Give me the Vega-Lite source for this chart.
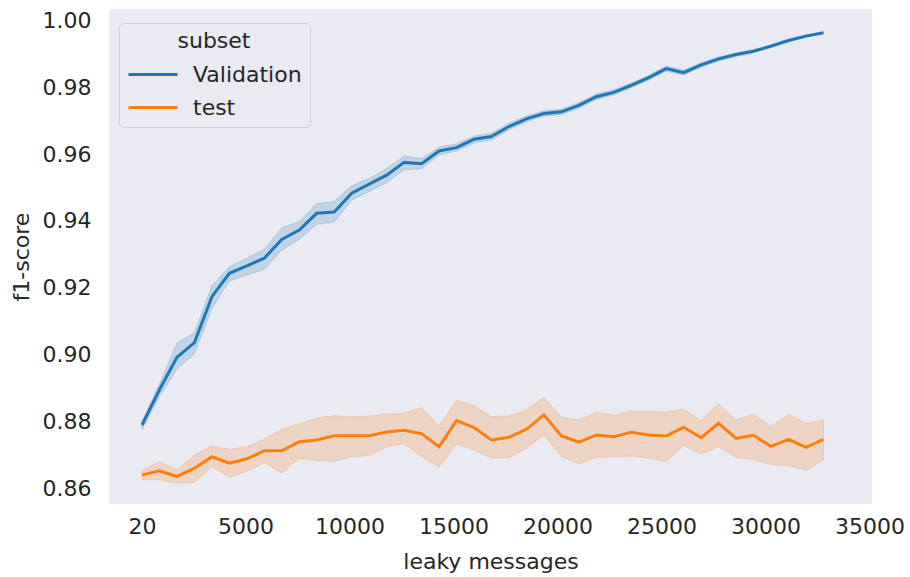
{
  "$schema": "https://vega.github.io/schema/vega-lite/v6.json",
  "width": 763,
  "height": 495,
  "autosize": {"type": "none"},
  "padding": {"left": 109, "top": 9, "right": 38, "bottom": 73},
  "background": "#ffffff",
  "config": {
    "font": "DejaVu Sans",
    "view": {"fill": "#EAEAF2", "stroke": null},
    "axis": {"domain": false, "ticks": false, "tickSize": 0, "grid": false, "labelFont": "DejaVu Sans", "labelFontSize": 22, "labelColor": "#262626", "titleFont": "DejaVu Sans", "titleFontSize": 22, "titleFontWeight": "normal", "titleColor": "#262626", "labelFlush": false, "labelOverlap": false},
    "legend": {"labelFont": "DejaVu Sans", "titleFont": "DejaVu Sans", "labelColor": "#262626", "titleColor": "#262626"}
  },
  "data": {"values": [
    {"subset": "Validation", "messages": 20, "f1": 0.8791, "lo": 0.8777, "hi": 0.8803},
    {"subset": "Validation", "messages": 860, "f1": 0.8896, "lo": 0.8876, "hi": 0.8914},
    {"subset": "Validation", "messages": 1700, "f1": 0.8993, "lo": 0.8958, "hi": 0.9035},
    {"subset": "Validation", "messages": 2540, "f1": 0.9037, "lo": 0.9003, "hi": 0.9067},
    {"subset": "Validation", "messages": 3380, "f1": 0.9174, "lo": 0.9139, "hi": 0.9207},
    {"subset": "Validation", "messages": 4220, "f1": 0.9244, "lo": 0.9221, "hi": 0.9264},
    {"subset": "Validation", "messages": 5060, "f1": 0.9266, "lo": 0.9238, "hi": 0.9289},
    {"subset": "Validation", "messages": 5900, "f1": 0.9289, "lo": 0.9256, "hi": 0.9316},
    {"subset": "Validation", "messages": 6740, "f1": 0.9345, "lo": 0.9313, "hi": 0.9380},
    {"subset": "Validation", "messages": 7580, "f1": 0.9373, "lo": 0.9345, "hi": 0.9398},
    {"subset": "Validation", "messages": 8420, "f1": 0.9423, "lo": 0.9390, "hi": 0.9452},
    {"subset": "Validation", "messages": 9260, "f1": 0.9427, "lo": 0.9396, "hi": 0.9458},
    {"subset": "Validation", "messages": 10100, "f1": 0.9483, "lo": 0.9462, "hi": 0.9505},
    {"subset": "Validation", "messages": 10940, "f1": 0.9510, "lo": 0.9488, "hi": 0.9527},
    {"subset": "Validation", "messages": 11780, "f1": 0.9537, "lo": 0.9514, "hi": 0.9557},
    {"subset": "Validation", "messages": 12620, "f1": 0.9575, "lo": 0.9553, "hi": 0.9594},
    {"subset": "Validation", "messages": 13460, "f1": 0.9571, "lo": 0.9556, "hi": 0.9586},
    {"subset": "Validation", "messages": 14300, "f1": 0.9609, "lo": 0.9597, "hi": 0.9621},
    {"subset": "Validation", "messages": 15140, "f1": 0.9619, "lo": 0.9609, "hi": 0.9630},
    {"subset": "Validation", "messages": 15980, "f1": 0.9644, "lo": 0.9633, "hi": 0.9654},
    {"subset": "Validation", "messages": 16820, "f1": 0.9652, "lo": 0.9642, "hi": 0.9662},
    {"subset": "Validation", "messages": 17660, "f1": 0.9682, "lo": 0.9672, "hi": 0.9692},
    {"subset": "Validation", "messages": 18500, "f1": 0.9705, "lo": 0.9696, "hi": 0.9714},
    {"subset": "Validation", "messages": 19340, "f1": 0.9721, "lo": 0.9713, "hi": 0.9729},
    {"subset": "Validation", "messages": 20180, "f1": 0.9726, "lo": 0.9718, "hi": 0.9734},
    {"subset": "Validation", "messages": 21020, "f1": 0.9745, "lo": 0.9737, "hi": 0.9753},
    {"subset": "Validation", "messages": 21860, "f1": 0.9771, "lo": 0.9763, "hi": 0.9779},
    {"subset": "Validation", "messages": 22700, "f1": 0.9784, "lo": 0.9776, "hi": 0.9792},
    {"subset": "Validation", "messages": 23540, "f1": 0.9805, "lo": 0.9798, "hi": 0.9812},
    {"subset": "Validation", "messages": 24380, "f1": 0.9828, "lo": 0.9821, "hi": 0.9835},
    {"subset": "Validation", "messages": 25220, "f1": 0.9855, "lo": 0.9847, "hi": 0.9863},
    {"subset": "Validation", "messages": 26060, "f1": 0.9843, "lo": 0.9836, "hi": 0.9851},
    {"subset": "Validation", "messages": 26900, "f1": 0.9866, "lo": 0.9859, "hi": 0.9872},
    {"subset": "Validation", "messages": 27740, "f1": 0.9884, "lo": 0.9878, "hi": 0.9890},
    {"subset": "Validation", "messages": 28580, "f1": 0.9897, "lo": 0.9891, "hi": 0.9902},
    {"subset": "Validation", "messages": 29420, "f1": 0.9907, "lo": 0.9902, "hi": 0.9912},
    {"subset": "Validation", "messages": 30260, "f1": 0.9922, "lo": 0.9917, "hi": 0.9926},
    {"subset": "Validation", "messages": 31100, "f1": 0.9939, "lo": 0.9935, "hi": 0.9943},
    {"subset": "Validation", "messages": 31940, "f1": 0.9952, "lo": 0.9949, "hi": 0.9955},
    {"subset": "Validation", "messages": 32780, "f1": 0.9962, "lo": 0.9960, "hi": 0.9964},
    {"subset": "test", "messages": 20, "f1": 0.8642, "lo": 0.8627, "hi": 0.8655},
    {"subset": "test", "messages": 860, "f1": 0.8654, "lo": 0.8627, "hi": 0.8682},
    {"subset": "test", "messages": 1700, "f1": 0.8637, "lo": 0.8617, "hi": 0.8657},
    {"subset": "test", "messages": 2540, "f1": 0.8662, "lo": 0.8619, "hi": 0.8701},
    {"subset": "test", "messages": 3380, "f1": 0.8696, "lo": 0.8667, "hi": 0.8728},
    {"subset": "test", "messages": 4220, "f1": 0.8677, "lo": 0.8635, "hi": 0.8718},
    {"subset": "test", "messages": 5060, "f1": 0.8690, "lo": 0.8652, "hi": 0.8726},
    {"subset": "test", "messages": 5900, "f1": 0.8714, "lo": 0.8678, "hi": 0.8748},
    {"subset": "test", "messages": 6740, "f1": 0.8714, "lo": 0.8647, "hi": 0.8778},
    {"subset": "test", "messages": 7580, "f1": 0.8741, "lo": 0.8691, "hi": 0.8794},
    {"subset": "test", "messages": 8420, "f1": 0.8746, "lo": 0.8685, "hi": 0.8811},
    {"subset": "test", "messages": 9260, "f1": 0.8759, "lo": 0.8682, "hi": 0.8819},
    {"subset": "test", "messages": 10100, "f1": 0.8759, "lo": 0.8696, "hi": 0.8816},
    {"subset": "test", "messages": 10940, "f1": 0.8759, "lo": 0.8699, "hi": 0.8818},
    {"subset": "test", "messages": 11780, "f1": 0.8770, "lo": 0.8726, "hi": 0.8824},
    {"subset": "test", "messages": 12620, "f1": 0.8775, "lo": 0.8735, "hi": 0.8825},
    {"subset": "test", "messages": 13460, "f1": 0.8765, "lo": 0.8696, "hi": 0.8844},
    {"subset": "test", "messages": 14300, "f1": 0.8726, "lo": 0.8665, "hi": 0.8788},
    {"subset": "test", "messages": 15140, "f1": 0.8804, "lo": 0.8734, "hi": 0.8864},
    {"subset": "test", "messages": 15980, "f1": 0.8783, "lo": 0.8716, "hi": 0.8849},
    {"subset": "test", "messages": 16820, "f1": 0.8746, "lo": 0.8692, "hi": 0.8816},
    {"subset": "test", "messages": 17660, "f1": 0.8754, "lo": 0.8694, "hi": 0.8818},
    {"subset": "test", "messages": 18500, "f1": 0.8778, "lo": 0.8721, "hi": 0.8836},
    {"subset": "test", "messages": 19340, "f1": 0.8821, "lo": 0.8761, "hi": 0.8874},
    {"subset": "test", "messages": 20180, "f1": 0.8758, "lo": 0.8697, "hi": 0.8814},
    {"subset": "test", "messages": 21020, "f1": 0.8740, "lo": 0.8675, "hi": 0.8806},
    {"subset": "test", "messages": 21860, "f1": 0.8761, "lo": 0.8694, "hi": 0.8828},
    {"subset": "test", "messages": 22700, "f1": 0.8756, "lo": 0.8696, "hi": 0.8820},
    {"subset": "test", "messages": 23540, "f1": 0.8769, "lo": 0.8698, "hi": 0.8833},
    {"subset": "test", "messages": 24380, "f1": 0.8761, "lo": 0.8692, "hi": 0.8831},
    {"subset": "test", "messages": 25220, "f1": 0.8758, "lo": 0.8682, "hi": 0.8830},
    {"subset": "test", "messages": 26060, "f1": 0.8784, "lo": 0.8730, "hi": 0.8838},
    {"subset": "test", "messages": 26900, "f1": 0.8753, "lo": 0.8704, "hi": 0.8804},
    {"subset": "test", "messages": 27740, "f1": 0.8796, "lo": 0.8726, "hi": 0.8854},
    {"subset": "test", "messages": 28580, "f1": 0.8751, "lo": 0.8694, "hi": 0.8806},
    {"subset": "test", "messages": 29420, "f1": 0.8760, "lo": 0.8688, "hi": 0.8824},
    {"subset": "test", "messages": 30260, "f1": 0.8727, "lo": 0.8672, "hi": 0.8786},
    {"subset": "test", "messages": 31100, "f1": 0.8748, "lo": 0.8669, "hi": 0.8824},
    {"subset": "test", "messages": 31940, "f1": 0.8724, "lo": 0.8655, "hi": 0.8796},
    {"subset": "test", "messages": 32780, "f1": 0.8748, "lo": 0.8687, "hi": 0.8806}
  ]},
  "encoding": {
    "x": {
      "field": "messages", "type": "quantitative",
      "scale": {"domain": [-1567, 35116], "nice": false, "zero": false},
      "axis": {"title": "leaky messages", "values": [20, 5000, 10000, 15000, 20000, 25000, 30000, 35000], "format": "d", "labelPadding": 12, "titlePadding": 14}
    }
  },
  "layer": [
    {
      "mark": {"type": "area", "fillOpacity": 0.2, "strokeOpacity": 0.2, "strokeWidth": 1},
      "encoding": {
        "y": {"field": "lo", "type": "quantitative", "scale": {"domain": [0.8555, 1.0033], "nice": false, "zero": false},
          "axis": {"title": "f1-score", "values": [0.86, 0.88, 0.9, 0.92, 0.94, 0.96, 0.98, 1.0], "format": ".2f", "labelPadding": 18, "titlePadding": 9}},
        "y2": {"field": "hi"},
        "color": {"field": "subset", "type": "nominal",
          "scale": {"domain": ["Validation", "test"], "range": ["#1f77b4", "#ff7f0e"]},
          "legend": {"title": "subset", "orient": "none", "legendX": 10, "legendY": 14, "symbolType": "M-2.227,0H2.227", "symbolSize": 484, "symbolStrokeWidth": 3, "symbolOffset": 13.5, "labelFontSize": 22, "titleFontSize": 22, "titleFontWeight": "normal", "titleAnchor": "middle", "titleAlign": "center", "padding": 8, "rowPadding": 9, "labelOffset": 27.5, "titlePadding": 9, "fillColor": "#EAEAF2", "strokeColor": "#CFCFD6", "cornerRadius": 4}},
        "stroke": {"field": "subset", "type": "nominal",
          "scale": {"domain": ["Validation", "test"], "range": ["#1f77b4", "#ff7f0e"]}, "legend": null}
      }
    },
    {
      "mark": {"type": "line", "strokeWidth": 3},
      "encoding": {
        "y": {"field": "f1", "type": "quantitative"},
        "color": {"field": "subset", "type": "nominal",
          "scale": {"domain": ["Validation", "test"], "range": ["#1f77b4", "#ff7f0e"]},
          "legend": {"title": "subset", "orient": "none", "legendX": 10, "legendY": 14, "symbolType": "M-2.227,0H2.227", "symbolSize": 484, "symbolStrokeWidth": 3, "symbolOffset": 13.5, "labelFontSize": 22, "titleFontSize": 22, "titleFontWeight": "normal", "titleAnchor": "middle", "titleAlign": "center", "padding": 8, "rowPadding": 9, "labelOffset": 27.5, "titlePadding": 9, "fillColor": "#EAEAF2", "strokeColor": "#CFCFD6", "cornerRadius": 4}}
      }
    }
  ]
}
